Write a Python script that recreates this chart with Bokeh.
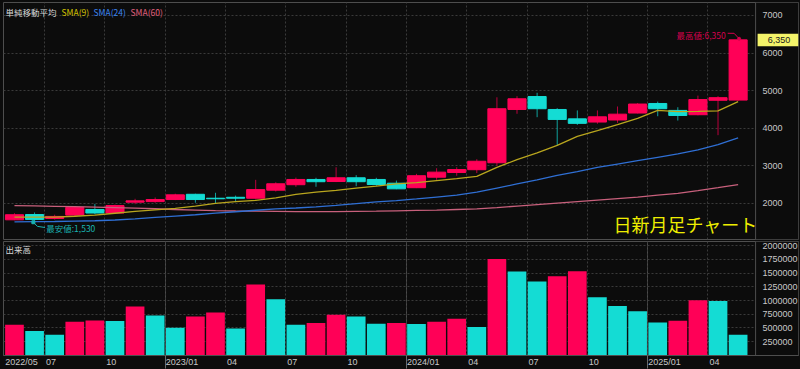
import numpy as np
from bokeh.plotting import figure
from bokeh.layouts import column
from bokeh.models import (ColumnDataSource, FixedTicker, Label, Range1d, Grid, BasicTickFormatter,
                          BoxAnnotation, Span)
from bokeh.embed import file_html
from bokeh.resources import INLINE

months = ["2022/05", "2022/06", "2022/07", "2022/08", "2022/09", "2022/10", "2022/11", "2022/12",
          "2023/01", "2023/02", "2023/03", "2023/04", "2023/05", "2023/06", "2023/07", "2023/08",
          "2023/09", "2023/10", "2023/11", "2023/12",
          "2024/01", "2024/02", "2024/03", "2024/04", "2024/05", "2024/06", "2024/07", "2024/08",
          "2024/09", "2024/10", "2024/11", "2024/12",
          "2025/01", "2025/02", "2025/03", "2025/04", "2025/05"]

opens = [1555, 1695, 1590, 1680, 1830, 1735, 2025, 2040, 2095, 2235, 2130, 2155, 2130, 2345, 2490,
         2630, 2575, 2675, 2630, 2530, 2410, 2690, 2815, 2890, 3075, 4495, 4840, 4495, 4245, 4160,
         4215, 4400, 4655, 4470, 4355, 4740, 4745]
highs = [1730, 1750, 1690, 1895, 1980, 1960, 2115, 2150, 2250, 2250, 2275, 2200, 2620, 2555, 2680,
         2675, 2955, 2745, 2675, 2600, 2780, 2930, 2955, 3170, 4820, 4850, 4940, 4530, 4470, 4470,
         4575, 4665, 4705, 4555, 4865, 4850, 6350]
lows = [1545, 1530, 1560, 1660, 1700, 1720, 1970, 2010, 2080, 2010, 1980, 2025, 2120, 2310, 2435,
        2435, 2560, 2450, 2460, 2370, 2400, 2620, 2730, 2800, 3000, 4380, 4290, 3535, 4085, 4115,
        4140, 4390, 4315, 4200, 4340, 3810, 4730]
closes = [1690, 1565, 1645, 1885, 1735, 1935, 2060, 2095, 2220, 2095, 2115, 2130, 2360, 2515, 2630,
          2570, 2675, 2570, 2495, 2380, 2730, 2825, 2895, 3115, 4515, 4780, 4515, 4230, 4125, 4300,
          4370, 4640, 4515, 4335, 4760, 4810, 6350]
volumes = [557000, 443000, 376000, 612000, 635000, 625000, 889000, 726000, 503000, 708000, 780000,
           491000, 1294000, 1023000, 557000, 588000, 739000, 708000, 576000, 588000, 570000, 612000,
           666000, 516000, 1758000, 1530000, 1349000, 1445000, 1535000, 1059000, 901000, 805000,
           600000, 630000, 1004000, 992000, 376000]
sma9 = [1625, 1625, 1625, 1650, 1680, 1730, 1780, 1820, 1860, 1918, 1990, 2040, 2075, 2140, 2230,
        2290, 2340, 2400, 2450, 2515, 2545, 2600, 2650, 2710, 2950, 3160, 3340, 3540, 3780, 3930,
        4090, 4260, 4470, 4440, 4445, 4460, 4705]
sma24 = [1500, 1505, 1510, 1520, 1530, 1550, 1580, 1620, 1655, 1690, 1735, 1770, 1810, 1845, 1870,
         1900, 1940, 1985, 2030, 2065, 2110, 2160, 2210, 2290, 2400, 2510, 2620, 2740, 2840, 2950,
         3040, 3130, 3220, 3310, 3420, 3560, 3740]
sma60 = [1935, 1925, 1915, 1905, 1895, 1880, 1865, 1850, 1830, 1815, 1800, 1790, 1785, 1780, 1775,
         1775, 1775, 1780, 1785, 1795, 1805, 1815, 1830, 1845, 1880, 1920, 1960, 2000, 2040, 2080,
         2120, 2160, 2210, 2260, 2330, 2410, 2495]

tick_months = ["2022/05", "2022/07", "2022/10", "2023/01", "2023/04", "2023/07", "2023/10",
               "2024/01", "2024/04", "2024/07", "2024/10", "2025/01", "2025/04"]
tick_labels = ["2022/05", "07", "10", "2023/01", "04", "07", "10", "2024/01", "04", "07", "10",
               "2025/01", "04"]
price_ticks = [2000, 3000, 4000, 5000, 6000, 7000]
volume_ticks = [250000, 500000, 750000, 1000000, 1250000, 1500000, 1750000, 2000000]

BG = "#0c0c0c"
GRID = "#3a3a3a"
OUT = "#4e4e4e"
RED = "#ff0057"
CYAN = "#14dcd4"
RED_WICK = "#b8003c"
CYAN_WICK = "#10a29e"
TXT = "#c8c8c8"
JP = "Noto Sans CJK JP"
LAT = "Liberation Sans"

W = 800
BL = 3
AXW = 43                   # width of the price-scale strip at the right
FW = W - BL                # frame spans to the right edge; the scale strip lives inside it
H1, FH1 = 240, 237
H2, FH2 = 129, 115

x = list(range(len(months)))

label_pos, grid_pos, year_pos = [], [], []
overrides = {}
for k, (m, lab) in enumerate(zip(tick_months, tick_labels)):
    idx = months.index(m)
    if k == 0:
        pos = idx + 0.35
    else:
        grid_pos.append(idx - 0.5)
        if "/" in lab:
            pos = idx - 0.5 + 0.84
            year_pos.append(idx - 0.5)
        else:
            pos = idx - 0.5 + 0.32
    pos = round(pos, 3)
    label_pos.append(pos)
    overrides[pos] = lab

X0 = -0.546
PPU = 20.152                       # pixels per month
XS = X0 + (FW - AXW) / PPU         # data x of the scale-strip separator
X1 = X0 + FW / PPU
x_range = Range1d(X0, X1)


def style_right_axis(ax, ticks):
    ax.ticker = FixedTicker(ticks=ticks)
    ax.formatter = BasicTickFormatter(use_scientific=False)
    ax.axis_line_color = None
    ax.major_tick_line_color = None
    ax.minor_tick_line_color = None
    ax.major_tick_out = 0
    ax.major_tick_in = 0
    ax.major_label_standoff = -(AXW - 7)
    ax.major_label_text_font = LAT
    ax.major_label_text_font_size = "9px"
    ax.major_label_text_color = TXT


def strip(p):
    p.add_layout(BoxAnnotation(left=XS, fill_color=BG, fill_alpha=1.0, line_color=None,
                               level="underlay"))
    p.add_layout(Span(location=XS, dimension="height", line_color=OUT, line_width=1))


# ---------------- price panel ----------------
p1 = figure(width=W, height=H1, x_range=x_range, y_range=Range1d(1030, 7346),
            output_backend="svg", toolbar_location=None, x_axis_location=None,
            y_axis_location="right", min_border_left=BL, min_border_right=0,
            min_border_top=2, min_border_bottom=1,
            background_fill_color=BG, border_fill_color=BG, outline_line_color=OUT)
p1.grid.visible = False
p1.add_layout(Grid(dimension=0, ticker=FixedTicker(ticks=grid_pos), grid_line_color=GRID,
                   grid_line_dash="2 2"))
p1.add_layout(Grid(dimension=1, ticker=FixedTicker(ticks=price_ticks), grid_line_color=GRID,
                   grid_line_dash="2 2"))
strip(p1)
style_right_axis(p1.yaxis[0], price_ticks)

up = [c >= o for o, c in zip(opens, closes)]
src = ColumnDataSource(dict(
    x=x, high=highs, low=lows,
    top=[max(o, c) for o, c in zip(opens, closes)],
    bottom=[min(o, c) for o, c in zip(opens, closes)],
    color=[RED if u else CYAN for u in up],
    wick=[RED_WICK if u else CYAN_WICK for u in up],
))
p1.segment(x0="x", y0="low", x1="x", y1="high", line_color="wick", line_width=1, source=src)
p1.vbar(x="x", width=0.9, top="top", bottom="bottom", fill_color="color", line_color="color",
        line_width=1, source=src)

p1.line(x, sma60, line_color="#c8607c", line_width=1.3)
p1.line(x, sma24, line_color="#2f6fd4", line_width=1.3)
p1.line(x, sma9, line_color="#b9a61e", line_width=1.3)

# min / max annotations
lo_i = int(np.argmin(lows)); lo_v = lows[lo_i]
hi_i = int(np.argmax(highs)); hi_v = highs[hi_i]
LOW_C = "#19b4b2"
HIGH_C = "#d6004c"
p1.line([lo_i - 0.06, lo_i + 0.14, lo_i + 0.52], [lo_v - 40, lo_v - 150, lo_v - 180],
        line_color=LOW_C, line_width=1)
p1.scatter([lo_i - 0.06], [lo_v - 40], marker="square", size=3, color=LOW_C)
p1.add_layout(Label(x=lo_i + 0.58, y=lo_v - 200, text="最安値:{:,}".format(lo_v),
                    text_font=JP, text_font_size="8.5px", text_color=LOW_C,
                    text_baseline="middle", text_align="left"))
p1.line([hi_i - 0.52, hi_i - 0.2, hi_i + 0.05], [hi_v + 175, hi_v + 175, hi_v + 30],
        line_color=HIGH_C, line_width=1)
p1.scatter([hi_i + 0.05], [hi_v + 30], marker="circle", size=3, color=HIGH_C)
p1.add_layout(Label(x=hi_i - 0.62, y=hi_v + 140, text="最高値:{:,}".format(hi_v),
                    text_font=JP, text_font_size="8.5px", text_color=HIGH_C,
                    text_baseline="middle", text_align="right"))

# current price box in the price-scale strip
last = closes[-1]
p1.add_layout(BoxAnnotation(left=XS + 2 / PPU, right=X1, bottom=last - 168, top=last + 165,
                            fill_color="#f4f46a", fill_alpha=1.0, line_color=None))
p1.add_layout(Label(x=XS + 23.5 / PPU, y=last, text="{:,}".format(last),
                    text_font=LAT, text_font_size="9px", text_color="#202020",
                    text_baseline="middle", text_align="center"))

# legend texts
legend = [("単純移動平均", "#d8d8d8", 2), ("SMA(9)", "#d6c400", 58),
          ("SMA(24)", "#3b84f0", 90), ("SMA(60)", "#e0607e", 127)]
for t, c, lx in legend:
    p1.add_layout(Label(x=lx, y=FH1 - 9, x_units="screen", y_units="screen", text=t,
                        text_font=JP, text_font_size="8.5px", text_color=c,
                        text_baseline="middle", text_align="left"))
p1.add_layout(Label(x=FW - AXW, y=3, x_units="screen", y_units="screen", text="日新月足チャート",
                    text_font=JP, text_font_size="18px", text_color="#eeee00",
                    text_baseline="bottom", text_align="right"))

# ---------------- volume panel ----------------
p2 = figure(width=W, height=H2, x_range=x_range, y_range=Range1d(-3600, 2078000),
            output_backend="svg", toolbar_location=None, y_axis_location="right",
            min_border_left=BL, min_border_right=0, min_border_top=1, min_border_bottom=13,
            background_fill_color=BG, border_fill_color=BG, outline_line_color=OUT)
p2.grid.visible = False
p2.add_layout(Grid(dimension=0, ticker=FixedTicker(ticks=grid_pos, minor_ticks=year_pos),
                   grid_line_color=GRID, grid_line_dash="2 2",
                   minor_grid_line_color="#4a4a4a"))
p2.add_layout(Grid(dimension=1, ticker=FixedTicker(ticks=volume_ticks), grid_line_color=GRID,
                   grid_line_dash="2 2"))
strip(p2)
vcol = [RED if i == 0 or volumes[i] > volumes[i - 1] else CYAN for i in range(len(volumes))]
vsrc = ColumnDataSource(dict(x=x, v=volumes, color=vcol))
p2.vbar(x="x", width=0.93, top="v", bottom=0, fill_color="color", line_color=None, source=vsrc)
style_right_axis(p2.yaxis[0], volume_ticks)

xa = p2.xaxis[0]
xa.ticker = FixedTicker(ticks=label_pos, minor_ticks=year_pos)
xa.major_label_overrides = overrides
xa.axis_line_color = OUT
xa.major_tick_line_color = None
xa.major_tick_out = 0
xa.major_tick_in = 0
xa.minor_tick_line_color = "#6a6a6a"
xa.minor_tick_out = 13
xa.minor_tick_in = 0
xa.major_label_standoff = -12
xa.major_label_text_font = LAT
xa.major_label_text_font_size = "9px"
xa.major_label_text_color = TXT

p2.add_layout(Label(x=2, y=FH2 - 8, x_units="screen", y_units="screen", text="出来高",
                    text_font=JP, text_font_size="8.5px", text_color="#d8d8d8",
                    text_baseline="middle", text_align="left"))

layout = column(p1, p2, spacing=0, styles={"background-color": BG})
open("out.html", "w").write(file_html(layout, INLINE))
